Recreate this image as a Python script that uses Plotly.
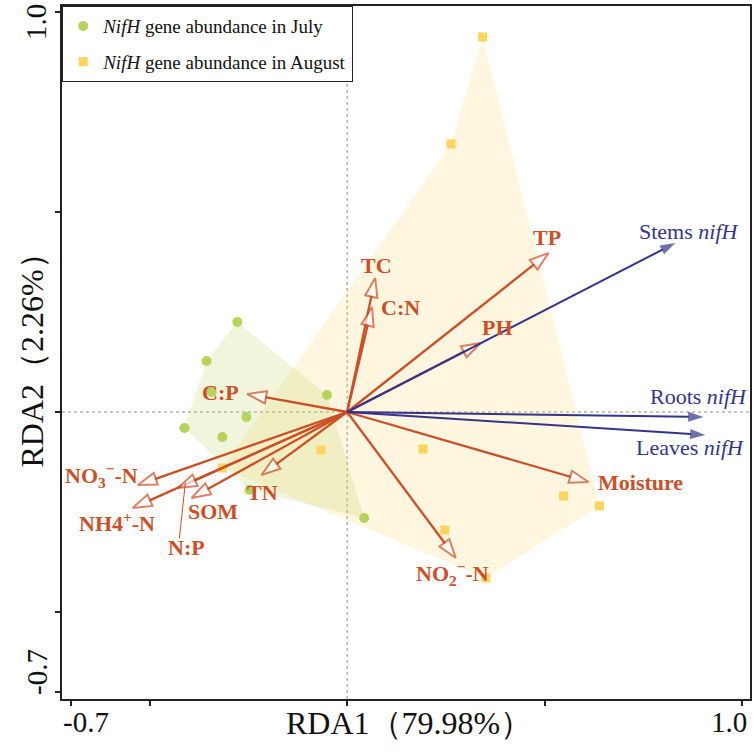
import plotly.graph_objects as go

# ---------------- data ----------------
july_x = [-0.278, -0.356, -0.343, -0.051, -0.255, -0.412, -0.316, -0.247, 0.043]
july_y = [0.225, 0.1275, 0.05, 0.0425, -0.0125, -0.04, -0.0625, -0.195, -0.265]

aug_x = [0.343, 0.263, -0.066, 0.192, -0.316, 0.548, 0.639, 0.247, 0.351]
aug_y = [0.9375, 0.67, -0.095, -0.0925, -0.14, -0.21, -0.235, -0.295, -0.415]
# order of the August samples that outline the shaded August region
aug_outline = [0, 6, 8, 4, 1]

env_labels = ["TC", "C:N", "TP", "PH", "C:P", "Moisture",
              "NO<sub>2</sub><sup>−</sup>-N", "NO<sub>3</sub><sup>−</sup>-N",
              "NH4<sup>+</sup>-N", "N:P", "SOM", "TN"]
env_x = [0.071, 0.063, 0.510, 0.338, -0.253, 0.611, 0.275, -0.530, -0.543, -0.429, -0.394, -0.217]
env_y = [0.335, 0.2625, 0.3975, 0.1725, 0.045, -0.175, -0.365, -0.1825, -0.24, -0.19, -0.215, -0.1575]

resp_labels = ["Stems <i>nifH</i>", "Roots <i>nifH</i>", "Leaves <i>nifH</i>"]
resp_x = [0.831, 0.902, 0.907]
resp_y = [0.4225, -0.0125, -0.0575]

tick_vals = [-0.7, -0.5, 0, 0.5, 1.0]
x_tick_labels = ["-0.7", "1.0"]
y_tick_labels = ["-0.7", "1.0"]
x_title = "RDA1（79.98%）"
y_title = "RDA2（2.26%）"
july_name = "<i>NifH</i> gene abundance in July"
aug_name = "<i>NifH</i> gene abundance in August"

# ---------------- styles / label placement (pixels) ----------------
RED = "#cc4f26"
BLUE = "#34348c"
SERIF = "Liberation Serif, Times New Roman, serif"
# (xshift, yshift, xanchor) for each environmental label relative to arrow tip
env_lab_pos = [(1, 13, "center"), (7, 0, "left"), (-2, 16, "center"), (17, 16, "center"),
               (-6, 2, "right"), (8, 0, "left"), (-3, -15, "center"), (2, 10, "right"),
               (-16, -14, "center"), (9, -59, "center"), (21, -13, "center"), (1, -17, "center")]
resp_lab_pos = [(14, 12), (-5, 21), (-15, -12)]


def hull(xs, ys):
    pts = sorted(set(zip(xs, ys)))

    def cross(o, a, b):
        return (a[0] - o[0]) * (b[1] - o[1]) - (a[1] - o[1]) * (b[0] - o[0])
    lower, upper = [], []
    for p in pts:
        while len(lower) >= 2 and cross(lower[-2], lower[-1], p) <= 0:
            lower.pop()
        lower.append(p)
    for p in reversed(pts):
        while len(upper) >= 2 and cross(upper[-2], upper[-1], p) <= 0:
            upper.pop()
        upper.append(p)
    h = lower[:-1] + upper[:-1]
    h.append(h[0])
    return [p[0] for p in h], [p[1] for p in h]


fig = go.Figure()

# shaded regions
ax_h = [aug_x[i] for i in aug_outline] + [aug_x[aug_outline[0]]]
ay_h = [aug_y[i] for i in aug_outline] + [aug_y[aug_outline[0]]]
fig.add_trace(go.Scatter(x=ax_h, y=ay_h, mode="lines", fill="toself",
                         fillcolor="rgba(255,215,110,0.22)", line=dict(width=0),
                         showlegend=False, hoverinfo="skip"))
jx_h, jy_h = hull(july_x, july_y)
fig.add_trace(go.Scatter(x=jx_h, y=jy_h, mode="lines", fill="toself",
                         fillcolor="rgba(183,210,90,0.21)", line=dict(width=0),
                         showlegend=False, hoverinfo="skip"))

# points
fig.add_trace(go.Scatter(x=july_x, y=july_y, mode="markers", name=july_name,
                         legendgroup="a",
                         marker=dict(symbol="circle", size=10, color="#b7d35c")))
fig.add_trace(go.Scatter(x=aug_x, y=aug_y, mode="markers", name=aug_name,
                         legendgroup="b",
                         marker=dict(symbol="square", size=9, color="#ffd35c")))

# environmental arrows (open heads)
for ex, ey in zip(env_x, env_y):
    fig.add_trace(go.Scatter(x=[0, ex], y=[0, ey], mode="lines+markers",
                             line=dict(color=RED, width=2.3),
                             marker=dict(symbol="arrow", size=[0, 20], angleref="previous",
                                         color="white", line=dict(color=RED, width=2)),
                             showlegend=False, hoverinfo="skip"))

# N:P leader line
i_np = env_labels.index("N:P")
fig.add_trace(go.Scatter(x=[env_x[i_np] * 0.955, env_x[i_np] * 0.99],
                         y=[env_y[i_np] * 0.93, env_y[i_np] * 1.66],
                         mode="lines", line=dict(color=RED, width=1),
                         showlegend=False, hoverinfo="skip"))

# response arrows (filled heads)
for rx, ry in zip(resp_x, resp_y):
    fig.add_trace(go.Scatter(x=[0, rx], y=[0, ry], mode="lines+markers",
                             line=dict(color=BLUE, width=2),
                             marker=dict(symbol="arrow", size=[0, 16], angleref="previous",
                                         color=BLUE, line=dict(width=0)),
                             showlegend=False, hoverinfo="skip"))

ann = []
for lab, ex, ey, (dx, dy, anc) in zip(env_labels, env_x, env_y, env_lab_pos):
    ann.append(dict(x=ex, y=ey, xref="x", yref="y", text="<b>%s</b>" % lab, showarrow=False,
                    xanchor=anc, yanchor="middle", xshift=dx, yshift=dy,
                    font=dict(family=SERIF, size=22, color=RED)))
for lab, rx, ry, (dx, dy) in zip(resp_labels, resp_x, resp_y, resp_lab_pos):
    ann.append(dict(x=rx, y=ry, xref="x", yref="y", text=lab, showarrow=False,
                    xanchor="center", yanchor="middle", xshift=dx, yshift=dy,
                    font=dict(family=SERIF, size=22, color=BLUE)))

# tick labels
tick_font = dict(family=SERIF, size=29, color="#111")
ann.append(dict(x=-0.7, y=0, xref="x", yref="paper", text=x_tick_labels[0], showarrow=False,
                xanchor="center", yanchor="middle", xshift=15, yshift=-23, font=tick_font))
ann.append(dict(x=1.0, y=0, xref="x", yref="paper", text=x_tick_labels[1], showarrow=False,
                xanchor="center", yanchor="middle", xshift=-13, yshift=-23, font=tick_font))
ann.append(dict(x=0, y=-0.7, xref="paper", yref="y", text=y_tick_labels[0], showarrow=False,
                textangle=-90, xanchor="center", yanchor="middle", xshift=-25, yshift=20,
                font=tick_font))
ann.append(dict(x=0, y=1.0, xref="paper", yref="y", text=y_tick_labels[1], showarrow=False,
                textangle=-90, xanchor="center", yanchor="middle", xshift=-26, yshift=-10,
                font=tick_font))
# axis titles
title_font = dict(family=SERIF, size=32, color="#111")
ann.append(dict(x=0.505, y=0, xref="paper", yref="paper", text=x_title, showarrow=False,
                xanchor="center", yanchor="middle", yshift=-24, font=title_font))
ann.append(dict(x=0, y=0.5, xref="paper", yref="paper", text=y_title, showarrow=False,
                textangle=-90, xanchor="center", yanchor="middle", xshift=-31,
                font=title_font))

shapes = [
    dict(type="line", xref="x", yref="paper", x0=0, x1=0, y0=0, y1=1,
         line=dict(color="#8a8a8a", width=1, dash="dot"), layer="below"),
    dict(type="line", xref="paper", yref="y", x0=0, x1=1, y0=0, y1=0,
         line=dict(color="#8a8a8a", width=1, dash="dot"), layer="below"),
]

axis_common = dict(showgrid=False, zeroline=False, showline=True, mirror=True,
                   linecolor="#222", linewidth=1.5, ticks="outside", ticklen=5,
                   tickcolor="#222", tickwidth=1.5, tickvals=tick_vals,
                   showticklabels=False)

fig.update_layout(
    width=755, height=752,
    margin=dict(l=62, r=3, t=6, b=53),
    paper_bgcolor="white", plot_bgcolor="white",
    xaxis=dict(range=[-0.722, 1.020], **axis_common),
    yaxis=dict(range=[-0.7175, 1.015], **axis_common),
    annotations=ann,
    shapes=shapes,
    showlegend=True,
    legend=dict(x=0, y=1, xanchor="left", yanchor="top",
                bgcolor="white", bordercolor="#222", borderwidth=1.2,
                font=dict(family=SERIF, size=19, color="#111"),
                tracegroupgap=8, traceorder="grouped"),
)

fig.write_html("out.html")
